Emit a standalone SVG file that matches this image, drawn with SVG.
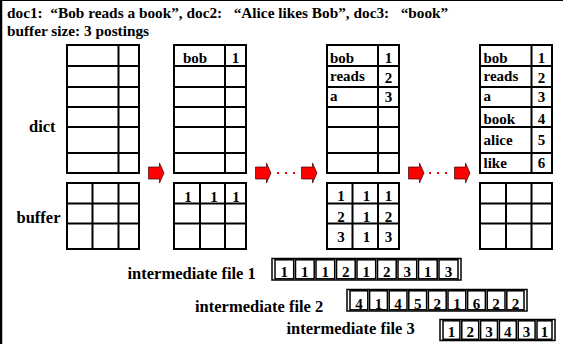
<svg xmlns="http://www.w3.org/2000/svg" width="563" height="344" viewBox="0 0 563 344">
<style>
  .t { font-family: "Liberation Serif", "Times New Roman", serif; font-weight: bold; fill: #000; }
  .h { font-size: 15.3px; white-space: pre; }
  .lbl { font-size: 16.5px; }
  .c { font-size: 15px; }
  .m { text-anchor: middle; }
  .ln { stroke: #000; stroke-width: 2; fill: none; }
  .bx { stroke: #000; stroke-width: 1.5; fill: none; }
  .arr { fill: #ff0000; stroke: #400000; stroke-width: 0.7; }
  .dot { stroke: #ff0000; stroke-width: 2; stroke-dasharray: 2 6; fill: none; }
</style>
<rect x="0" y="0" width="563" height="344" fill="#fff"/>
<line x1="0" y1="0.5" x2="563" y2="0.5" stroke="#000" stroke-width="1"/>
<line x1="1" y1="0" x2="1" y2="344" stroke="#000" stroke-width="2.5"/>

<g id="header">
  <text class="t h" x="7" y="18">doc1:  “Bob reads a book”, doc2:   “Alice likes Bob”, doc3:   “book”</text>
  <text class="t h" x="7" y="36">buffer size: 3 postings</text>
</g>

<g id="labels">
  <text class="t lbl" x="29" y="131.5">dict</text>
  <text class="t lbl" x="16.5" y="223">buffer</text>
</g>

<g id="table1">
  <rect class="ln" x="67" y="45" width="72" height="128"/>
  <path class="ln" d="M67 66H139M67 87H139M67 107H139M67 127H139M67 153H139M118.5 45V173"/>
  <rect class="ln" x="67" y="183" width="72" height="66"/>
  <path class="ln" d="M67 203.5H139M67 223.5H139M92.5 183V249M118.5 183V249"/>
</g>

<g id="table2">
  <rect class="ln" x="174" y="45" width="72" height="128"/>
  <path class="ln" d="M174 66H246M174 87H246M174 107H246M174 127H246M174 153H246M225 45V173"/>
  <rect class="ln" x="174" y="183" width="72" height="66"/>
  <path class="ln" d="M174 203.5H246M174 223.5H246M200 183V249M225 183V249"/>
  <text class="t c" x="183" y="63">bob</text>
  <text class="t c m" x="235.5" y="63">1</text>
  <text class="t c m" x="188" y="201.5">1</text>
  <text class="t c m" x="214" y="201.5">1</text>
  <text class="t c m" x="236" y="201.5">1</text>
</g>

<g id="table3">
  <rect class="ln" x="327" y="45" width="72" height="128"/>
  <path class="ln" d="M327 66H399M327 87H399M327 107H399M327 127H399M327 153H399M378 45V173"/>
  <rect class="ln" x="327" y="183" width="72" height="66"/>
  <path class="ln" d="M327 203.5H399M327 223.5H399M352.5 183V249M378 183V249"/>
  <text class="t c" x="330" y="63">bob</text>
  <text class="t c" x="330" y="80.5">reads</text>
  <text class="t c" x="330" y="101">a</text>
  <text class="t c m" x="388.5" y="63">1</text>
  <text class="t c m" x="388.5" y="83">2</text>
  <text class="t c m" x="388.5" y="101.5">3</text>
  <text class="t c m" x="341" y="200.5">1</text>
  <text class="t c m" x="366.5" y="200.5">1</text>
  <text class="t c m" x="388.5" y="200.5">1</text>
  <text class="t c m" x="341" y="221.5">2</text>
  <text class="t c m" x="366.5" y="221.5">1</text>
  <text class="t c m" x="388.5" y="221.5">2</text>
  <text class="t c m" x="341" y="242">3</text>
  <text class="t c m" x="366.5" y="242">1</text>
  <text class="t c m" x="388.5" y="242">3</text>
</g>

<g id="table4">
  <rect class="ln" x="480" y="45" width="72" height="128"/>
  <path class="ln" d="M480 66H552M480 87H552M480 107H552M480 127H552M480 153H552M531.5 45V173"/>
  <rect class="ln" x="480" y="183" width="72" height="66"/>
  <path class="ln" d="M480 203.5H552M480 223.5H552M506 183V249M531.5 183V249"/>
  <text class="t c" x="483.5" y="63">bob</text>
  <text class="t c" x="483.5" y="80.5">reads</text>
  <text class="t c" x="483.5" y="101">a</text>
  <text class="t c" x="483.5" y="124">book</text>
  <text class="t c" x="483.5" y="145">alice</text>
  <text class="t c" x="483.5" y="168">like</text>
  <text class="t c m" x="541.5" y="63">1</text>
  <text class="t c m" x="541.5" y="83">2</text>
  <text class="t c m" x="541.5" y="101.5">3</text>
  <text class="t c m" x="541.5" y="124">4</text>
  <text class="t c m" x="541.5" y="145">5</text>
  <text class="t c m" x="541.5" y="168">6</text>
</g>

<g id="connectors">
  <polygon class="arr" points="148.5,167 159.5,167 159.5,163 164,173 159.5,183 159.5,179 148.5,179"/>
  <polygon class="arr" points="255.5,167 266.5,167 266.5,163 271,173 266.5,183 266.5,179 255.5,179"/>
  <line class="dot" x1="277" y1="173" x2="298" y2="173"/>
  <polygon class="arr" points="301.5,167 312.5,167 312.5,163 317,173 312.5,183 312.5,179 301.5,179"/>
  <polygon class="arr" points="408.5,167 419.5,167 419.5,163 424,173 419.5,183 419.5,179 408.5,179"/>
  <line class="dot" x1="429" y1="173" x2="450" y2="173"/>
  <polygon class="arr" points="454.5,167 465.5,167 465.5,163 470,173 465.5,183 465.5,179 454.5,179"/>
</g>

<g id="file1">
  <text class="t lbl" x="127.5" y="278.5">intermediate file 1</text>
  <rect class="bx" x="272" y="258.5" width="189" height="21.5"/>
  <g class="bx">
    <rect x="275" y="259.8" width="18.7" height="19"/>
    <rect x="295.5" y="259.8" width="18.7" height="19"/>
    <rect x="316" y="259.8" width="18.7" height="19"/>
    <rect x="336.5" y="259.8" width="18.7" height="19"/>
    <rect x="357" y="259.8" width="18.7" height="19"/>
    <rect x="377.5" y="259.8" width="18.7" height="19"/>
    <rect x="398" y="259.8" width="18.7" height="19"/>
    <rect x="418.5" y="259.8" width="18.7" height="19"/>
    <rect x="439" y="259.8" width="19" height="19"/>
  </g>
  <text class="t c m" x="284.3" y="276.5">1</text>
  <text class="t c m" x="304.8" y="276.5">1</text>
  <text class="t c m" x="325.3" y="276.5">1</text>
  <text class="t c m" x="345.8" y="276.5">2</text>
  <text class="t c m" x="366.3" y="276.5">1</text>
  <text class="t c m" x="386.8" y="276.5">2</text>
  <text class="t c m" x="407.3" y="276.5">3</text>
  <text class="t c m" x="427.8" y="276.5">1</text>
  <text class="t c m" x="448.5" y="276.5">3</text>
</g>

<g id="file2">
  <text class="t lbl" x="195" y="311.5">intermediate file 2</text>
  <rect class="bx" x="347" y="289.5" width="180" height="21.5"/>
  <g class="bx">
    <rect x="350" y="290.8" width="17.8" height="19"/>
    <rect x="369.6" y="290.8" width="17.8" height="19"/>
    <rect x="389.2" y="290.8" width="17.8" height="19"/>
    <rect x="408.8" y="290.8" width="17.8" height="19"/>
    <rect x="428.4" y="290.8" width="17.8" height="19"/>
    <rect x="448" y="290.8" width="17.8" height="19"/>
    <rect x="467.6" y="290.8" width="17.8" height="19"/>
    <rect x="487.2" y="290.8" width="17.8" height="19"/>
    <rect x="506.8" y="290.8" width="17.2" height="19"/>
  </g>
  <text class="t c m" x="358.9" y="309">4</text>
  <text class="t c m" x="378.5" y="309">1</text>
  <text class="t c m" x="398.1" y="309">4</text>
  <text class="t c m" x="417.7" y="309">5</text>
  <text class="t c m" x="437.3" y="309">2</text>
  <text class="t c m" x="456.9" y="309">1</text>
  <text class="t c m" x="476.5" y="309">6</text>
  <text class="t c m" x="496.1" y="309">2</text>
  <text class="t c m" x="515.4" y="309">2</text>
</g>

<g id="file3">
  <text class="t lbl" x="286.5" y="333.5">intermediate file 3</text>
  <rect class="bx" x="440" y="319.5" width="115" height="21"/>
  <g class="bx">
    <rect x="443" y="320.8" width="16.9" height="18.5"/>
    <rect x="461.8" y="320.8" width="16.9" height="18.5"/>
    <rect x="480.6" y="320.8" width="16.9" height="18.5"/>
    <rect x="499.4" y="320.8" width="16.9" height="18.5"/>
    <rect x="518.2" y="320.8" width="16.9" height="18.5"/>
    <rect x="537" y="320.8" width="15" height="18.5"/>
  </g>
  <text class="t c m" x="451.4" y="337">1</text>
  <text class="t c m" x="470.2" y="337">2</text>
  <text class="t c m" x="489" y="337">3</text>
  <text class="t c m" x="507.8" y="337">4</text>
  <text class="t c m" x="526.6" y="337">3</text>
  <text class="t c m" x="544.5" y="337">1</text>
</g>
</svg>
